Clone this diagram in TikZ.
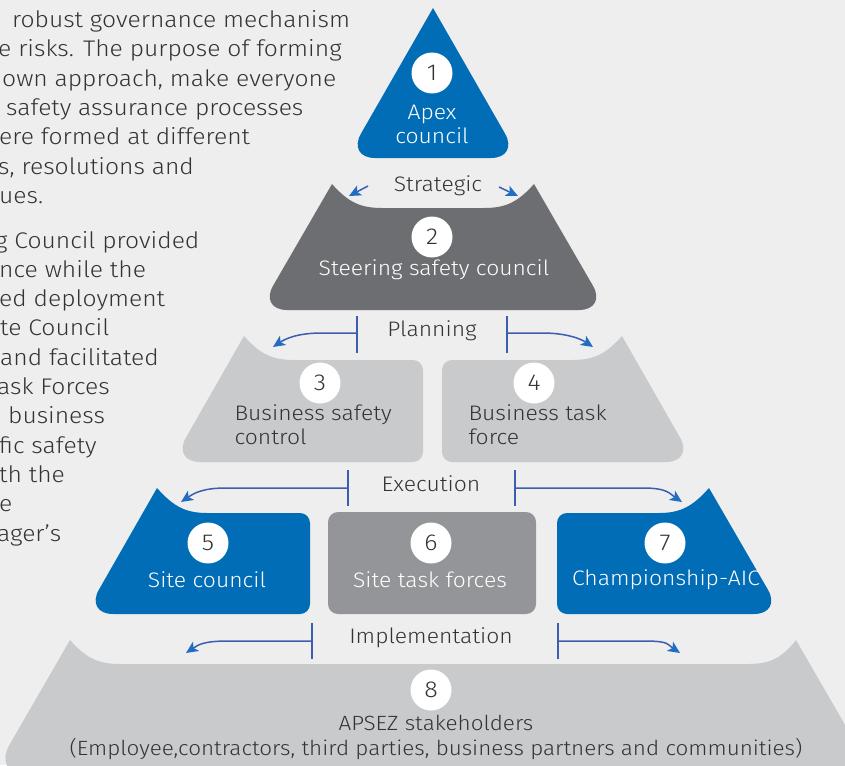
\documentclass[tikz,border=0pt]{standalone}
\usepackage{fontspec}
\setmainfont{Fira Sans Light}[FakeStretch=1.09]
\usetikzlibrary{arrows.meta}

\definecolor{apsezblue}{HTML}{006DB6}
\definecolor{steergrey}{HTML}{6D6E71}
\definecolor{palegrey}{HTML}{C9CACC}
\definecolor{midgrey}{HTML}{939598}
\definecolor{pagegrey}{HTML}{EEEEEE}
\definecolor{inkgrey}{HTML}{333333}
\definecolor{flowblue}{HTML}{3D5DB0}
\definecolor{tipblue}{HTML}{1F6EC4}

\tikzset{
  num/.style={circle, fill=white, minimum size=41pt, inner sep=0pt, text=inkgrey, font=\fontsize{23}{23}\selectfont},
  tiertext/.style={font=\fontsize{21}{24}\selectfont, align=center},
  stagelabel/.style={font=\fontsize{21}{21}\selectfont, text=inkgrey, inner sep=2pt},
  para/.style={anchor=base west, font=\fontsize{22.6}{22.6}\selectfont, text=inkgrey, inner sep=0pt},
  bar/.style={draw=flowblue, line width=1.4pt},
  flow/.style={draw=flowblue, line width=1.5pt, -{Stealth[length=12pt, width=11pt, inset=3pt, color=tipblue]}},
}

\begin{document}
\begin{tikzpicture}[x=1pt, y=-1pt]
    \useasboundingbox (0,0) rectangle (845,765);
    \fill[pagegrey] (0,0) rectangle (845,765);
    \clip (0,0) rectangle (845,765);

    % text cut off at the left margin
    \foreach \txt/\x [count=\i from 0] in {
        robust governance mechanism/12, e risks. The purpose of forming/-2,
        {own approach, make everyone}/2, safety assurance processes/6,
        ere formed at different/-1, {s, resolutions and}/-2, ues./-1}
        \node[para] (para-a-\i) at (\x, 27.5+29.3*\i) {\txt};
    \foreach \txt/\x [count=\i from 0] in {
        g Council provided/-5, nce while the/-1, ed deployment/-1,
        te Council/0, and facilitated/0, ask Forces/-3, business/8,
        fic safety/-1, th the/-1, e/-1, ager’s/-3}
        \node[para] (para-b-\i) at (\x, 248+29.3*\i) {\txt};

    % pyramid tiers
    \fill[apsezblue] (433,8) [rounded corners=28pt] -- (347,158) -- (519,158) -- (433,8);
    \fill[steergrey] (332,184) .. controls (348,202) and (360,208) .. (382,208) -- (484,208)
        .. controls (506,208) and (518,202) .. (534,184)
        [rounded corners=28pt] -- (607,310) -- (259,310) -- (332,184);
    \fill[palegrey] (244,336) .. controls (260,354) and (272,360) .. (294,360)
        [rounded corners=10pt] -- (423,360) -- (423,462)
        [rounded corners=28pt] -- (172,462) -- (244,336);
    \fill[palegrey] (622,336) .. controls (606,354) and (594,360) .. (572,360)
        [rounded corners=10pt] -- (442,360) -- (442,462)
        [rounded corners=28pt] -- (694,462) -- (622,336);
    \fill[apsezblue] (157,488) .. controls (173,506) and (185,513) .. (207,513)
        [rounded corners=10pt] -- (310,513) -- (310,614)
        [rounded corners=28pt] -- (85,614) -- (157,488);
    \fill[midgrey, rounded corners=10pt] (328,512) rectangle (536,614);
    \fill[apsezblue] (709,488) .. controls (693,506) and (681,513) .. (659,513)
        [rounded corners=10pt] -- (557,513) -- (557,614)
        [rounded corners=28pt] -- (782,614) -- (709,488);
    \fill[palegrey] (70,640) .. controls (86,658) and (98,664) .. (120,664) -- (748,664)
        .. controls (770,664) and (782,658) .. (796,640)
        [rounded corners=35pt] -- (874,775) -- (-8,775) -- (70,640);

    % numbers and names
    \node[num] (n1) at (432,73) {1};
    \node[tiertext, text=white] (t1) at (432,124) {Apex\\council};
    \node[num] (n2) at (432,237) {2};
    \node[tiertext, text=white] (t2) at (434,270) {Steering safety council};
    \node[num] (n3) at (320,383) {3};
    \node[tiertext, text=inkgrey, align=left, anchor=west] (t3) at (231,425) {Business safety\\control};
    \node[num] (n4) at (534,383) {4};
    \node[tiertext, text=inkgrey, align=left, anchor=west] (t4) at (465,425) {Business task\\force};
    \node[num] (n5) at (208,543) {5};
    \node[tiertext, text=white] (t5) at (207,580) {Site council};
    \node[num] (n6) at (431,543) {6};
    \node[tiertext, text=white] (t6) at (430,580) {Site task forces};
    \node[num] (n7) at (665,543) {7};
    \node[tiertext, text=white] (t7) at (666,580) {Championship-AIC};
    \node[num] (n8) at (431,690) {8};
    \node[tiertext, text=inkgrey, font=\fontsize{20.6}{25}\selectfont] (t8) at (436,737)
        {APSEZ stakeholders\\(Employee,contractors, third parties, business partners and communities)};

    % stage labels
    \node[stagelabel] (strategic) at (438,186) {Strategic};
    \node[stagelabel] (planning) at (432,331) {Planning};
    \node[stagelabel] (execution) at (431,484) {Execution};
    \node[stagelabel] (implementation) at (431,638) {Implementation};

    % strategic arrows
    \coordinate (st-l) at (368,186); \coordinate (st-lt) at (349,196);
    \coordinate (st-r) at (499,187); \coordinate (st-rt) at (518,196);
    \draw[flow] (st-l) -- (st-lt);
    \draw[flow] (st-r) -- (st-rt);

    % planning arrows
    \coordinate (pl-l) at (357,333); \coordinate (pl-lt) at (273,347);
    \coordinate (pl-r) at (507,333); \coordinate (pl-rt) at (593,347);
    \draw[bar] ([yshift=17pt]pl-l) -- ([yshift=-20pt]pl-l);
    \draw[bar] ([yshift=17pt]pl-r) -- ([yshift=-20pt]pl-r);
    \draw[flow] (pl-l) -- ++(-35,0) .. controls +(-25,0) and +(12,-8) .. (pl-lt);
    \draw[flow] (pl-r) -- ++(35,0) .. controls +(25,0) and +(-12,-8) .. (pl-rt);

    % execution arrows
    \coordinate (ex-l) at (348,488); \coordinate (ex-lt) at (181,502);
    \coordinate (ex-r) at (515,488); \coordinate (ex-rt) at (682,502);
    \draw[bar] ([yshift=18pt]ex-l) -- ([yshift=-18pt]ex-l);
    \draw[bar] ([yshift=18pt]ex-r) -- ([yshift=-18pt]ex-r);
    \draw[flow] (ex-l) -- ++(-122,0) .. controls +(-25,0) and +(12,-8) .. (ex-lt);
    \draw[flow] (ex-r) -- ++(128,0) .. controls +(25,0) and +(-12,-8) .. (ex-rt);

    % implementation arrows
    \coordinate (im-l) at (312,641); \coordinate (im-lt) at (186,653);
    \coordinate (im-r) at (558,641); \coordinate (im-rt) at (680,653);
    \draw[bar] ([yshift=18pt]im-l) -- ([yshift=-18pt]im-l);
    \draw[bar] ([yshift=18pt]im-r) -- ([yshift=-18pt]im-r);
    \draw[flow] (im-l) -- ++(-84,0) .. controls +(-25,0) and +(12,-8) .. (im-lt);
    \draw[flow] (im-r) -- ++(87,0) .. controls +(25,0) and +(-12,-8) .. (im-rt);
\end{tikzpicture}
\end{document}
